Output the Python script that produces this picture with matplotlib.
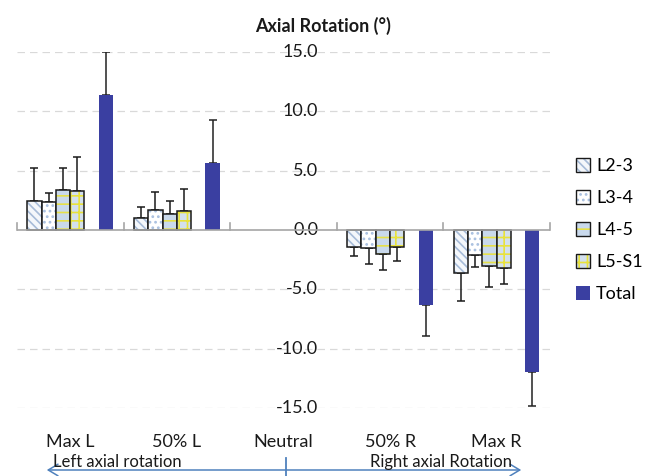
import matplotlib.pyplot as plt
from matplotlib.patches import Patch
import numpy as np

plt.rcParams['font.family'] = ['Lato', 'DejaVu Sans']
plt.rcParams['hatch.linewidth'] = 1.2

categories = ['Max L', '50% L', 'Neutral', '50% R', 'Max R']
levels = ['L2-3', 'L3-4', 'L4-5', 'L5-S1', 'Total']

# mean values per level (rows) for each position (cols); Neutral = 0
means = {
    'L2-3':  [2.47, 1.01, 0.0, -1.40, -3.62],
    'L3-4':  [2.33, 1.66, 0.0, -1.54, -2.11],
    'L4-5':  [3.34, 1.35, 0.0, -2.02, -3.03],
    'L5-S1': [3.26, 1.60, 0.0, -1.40, -3.23],
    'Total': [11.37, 5.62, 0.0, -6.32, -11.96],
}
sds = {
    'L2-3':  [2.75, 0.90, 0.0, 0.82, 2.33],
    'L3-4':  [0.76, 1.52, 0.0, 1.32, 1.01],
    'L4-5':  [1.86, 1.10, 0.0, 1.32, 1.77],
    'L5-S1': [2.92, 1.88, 0.0, 1.21, 1.32],
    'Total': [3.63, 3.65, 0.0, 2.61, 2.87],
}
yticks = [15.0, 10.0, 5.0, 0.0, -5.0, -10.0, -15.0]

styles = {
    'L2-3':  dict(face='#f4f7fb', hatch='\\\\\\\\', hc='#a7bbd8'),
    'L3-4':  dict(face='#ffffff', hatch='...', hc='#a9c0e0'),
    'L4-5':  dict(face='#c9d9ec', hatch='--', hc='#e6e04a'),
    'L5-S1': dict(face='#d3e0ee', hatch='++', hc='#e8e23c'),
}
total_color = '#3a3fa1'

fig = plt.figure(figsize=(6.48, 4.76), dpi=100)
ax = fig.add_axes([17/648, 1-408/476, 533/648, 356/476])
ax.set_xlim(-0.5, 4.5)
ax.set_ylim(-15, 15)
for s in ax.spines.values():
    s.set_visible(False)
ax.set_xticks([])
ax.set_yticks([])

for yv in yticks:
    if yv != 0:
        ax.axhline(yv, color='#d9d9d9', lw=0.9, ls=(0, (6, 4)), zorder=0)
ax.axhline(0, color='#a6a6a6', lw=1.2, zorder=4)
for b in np.arange(-0.5, 4.6, 1.0):
    ax.plot([b, b], [0, 0.55], color='#a6a6a6', lw=1.2, zorder=4, clip_on=False)

x = np.arange(len(categories))
w = 0.134
left = x - 0.5 + 0.097
slots = {'L2-3': 0, 'L3-4': 1, 'L4-5': 2, 'L5-S1': 3, 'Total': 5}

handles = []
for lev in levels:
    m = np.array(means[lev])
    e = np.array(sds[lev])
    xc = left + (slots[lev] + 0.5) * w
    keep = m != 0
    lower = np.where(m < 0, e, 0)
    upper = np.where(m > 0, e, 0)
    if lev == 'Total':
        ax.bar(xc[keep], m[keep], w, color=total_color, zorder=3)
        ax.errorbar(xc[keep], m[keep], yerr=[lower[keep], upper[keep]], fmt='none',
                    ecolor='#222222', elinewidth=1.1, capsize=3, capthick=1.1, zorder=2)
        handles.append(Patch(facecolor=total_color))
    else:
        st = styles[lev]
        ax.bar(xc[keep], m[keep], w, color=st['face'], hatch=st['hatch'],
               edgecolor=st['hc'], lw=0, zorder=3)
        ax.bar(xc[keep], m[keep], w, fill=False, edgecolor='#1a1a1a', lw=1.1, zorder=3)
        ax.errorbar(xc[keep], m[keep], yerr=[lower[keep], upper[keep]], fmt='none',
                    ecolor='#1a1a1a', elinewidth=1.1, capsize=3, capthick=1.1, zorder=2)
        handles.append((Patch(facecolor=st['face'], hatch=st['hatch'], edgecolor=st['hc'], lw=0),
                        Patch(fill=False, edgecolor='#1a1a1a', lw=1.0)))

# y tick labels drawn next to the Neutral slot
for yv in yticks:
    ax.text(2.325, yv, f'{yv:.1f}', ha='right', va='center', fontsize=13, color='#1a1a1a')

for xi, c in zip(x, categories):
    ax.text(xi, -17.9, c, ha='center', va='center', fontsize=13, color='#1a1a1a', clip_on=False)

fig.text(323/648, 1-26/476, 'Axial Rotation (°)', ha='center', va='center',
         fontsize=13, fontweight='bold', color='#1a1a1a')

fig.legend(handles, levels, loc='center left', bbox_to_anchor=(567/648, 1-230/476),
           frameon=False, fontsize=13, handlelength=0.8, handleheight=0.8,
           handletextpad=0.3, labelspacing=0.88, borderpad=0)

# bottom double arrow
arrow_y = 1 - 470/476
ax.annotate('', xy=(44/648, arrow_y), xytext=(524/648, arrow_y), xycoords='figure fraction',
            textcoords='figure fraction',
            arrowprops=dict(arrowstyle='<->, head_length=0.5, head_width=0.3',
                            color='#4f81bd', lw=1.1, mutation_scale=14))
fig.add_artist(plt.Line2D([286/648, 286/648], [0, 1-458/476], color='#4f81bd', lw=1.3))
fig.text(53/648, 1-462/476, 'Left axial rotation', ha='left', va='center', fontsize=12, color='#1a1a1a')
fig.text(512/648, 1-462/476, 'Right axial Rotation', ha='right', va='center', fontsize=12, color='#1a1a1a')

fig.savefig('out.png', dpi=100)
